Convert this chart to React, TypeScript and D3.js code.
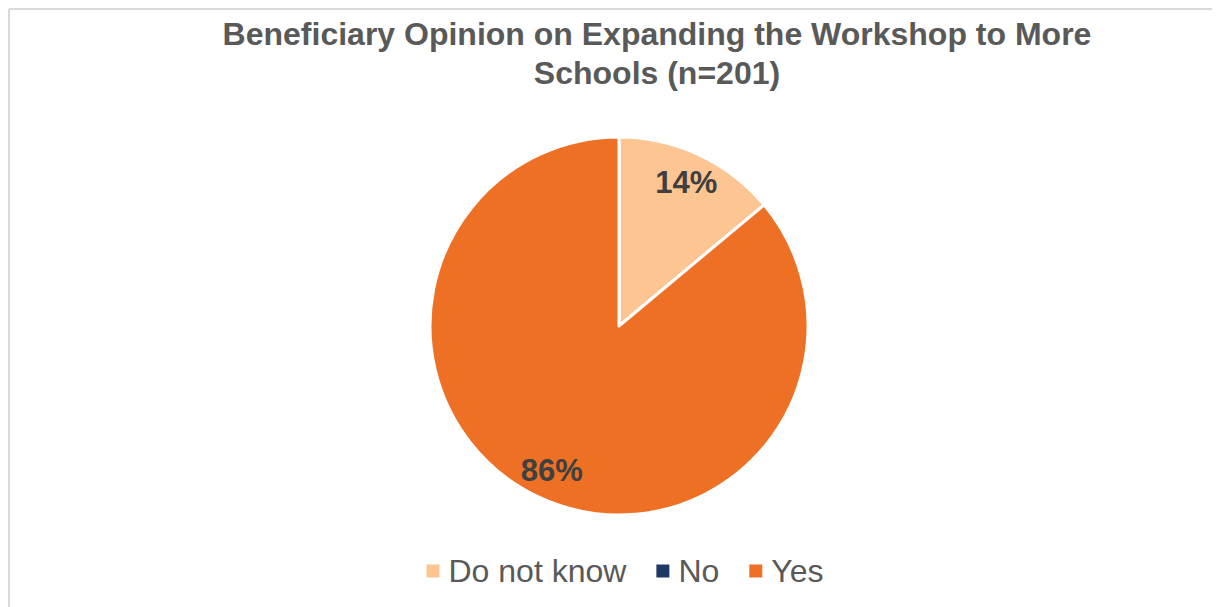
import React, { useEffect, useRef } from "react";
import * as d3 from "d3";

const titleLines = ["Beneficiary Opinion on Expanding the Workshop to More", "Schools (n=201)"];
const categories = ["Do not know", "No", "Yes"];
const values = [28, 0, 173];
const labels = ["14%", "", "86%"];
const colors = ["#FDC592", "#1F3864", "#EE7024"];

const W = 1212;
const H = 599;

export default function App() {
  const ref = useRef<SVGSVGElement>(null);
  useEffect(() => {
    document.body.style.overflow = "hidden";
    const svg = d3.select(ref.current);
    svg.selectAll("*").remove();
    const font = "'Liberation Sans', Arial, sans-serif";
    svg.append("rect").attr("width", W).attr("height", H).attr("fill", "#fff");
    svg.append("line").attr("x1", 1).attr("x2", W).attr("y1", 1).attr("y2", 1).attr("stroke", "#d9d9d9").attr("stroke-width", 2);
    svg.append("line").attr("x1", 1).attr("x2", 1).attr("y1", 1).attr("y2", H).attr("stroke", "#d9d9d9").attr("stroke-width", 2);

    const title = svg.append("text").attr("text-anchor", "middle").attr("font-family", font)
      .attr("font-weight", "bold").attr("font-size", 32).attr("fill", "#595959");
    titleLines.forEach((t, i) => {
      title.append("tspan").attr("x", 649).attr("y", 37 + i * 39).text(t);
    });

    const cx = 611, cy = 318, r = 189;
    const pie = d3.pie<number>().sort(null).value((d) => d);
    const arcs = pie(values);
    const arc = d3.arc<d3.PieArcDatum<number>>().innerRadius(0).outerRadius(r);
    const g = svg.append("g").attr("transform", `translate(${cx},${cy})`);
    g.selectAll("path").data(arcs.filter((a) => a.value > 0)).join("path")
      .attr("d", arc as any)
      .attr("fill", (d) => colors[d.index])
      .attr("stroke", "#fff").attr("stroke-width", 3).attr("stroke-linejoin", "round");
    const labelArc = d3.arc<d3.PieArcDatum<number>>().innerRadius(r * 0.84).outerRadius(r * 0.84);
    g.selectAll("text.lbl").data(arcs.filter((a) => a.value > 0)).join("text")
      .attr("class", "lbl")
      .attr("transform", (d) => `translate(${labelArc.centroid(d)})`)
      .attr("text-anchor", "middle").attr("dy", "0.35em")
      .attr("font-family", font).attr("font-weight", "bold").attr("font-size", 31).attr("fill", "#404040")
      .text((d) => labels[d.index]);

    // legend
    const lg = svg.append("g");
    const items = categories.map((c, i) => {
      const gi = lg.append("g");
      gi.append("rect").attr("width", 13).attr("height", 13).attr("y", -6.5).attr("fill", colors[i]);
      const t = gi.append("text").attr("x", 22).attr("dy", "0.35em").attr("font-family", font)
        .attr("font-size", 32).attr("fill", "#595959").text(c);
      const w = 22 + (t.node() as SVGTextElement).getComputedTextLength();
      return { gi, w };
    });
    const gap = 30;
    const total = items.reduce((s, it) => s + it.w, 0) + gap * (items.length - 1);
    let x = 617 - total / 2;
    items.forEach((it) => {
      it.gi.attr("transform", `translate(${x},563)`);
      x += it.w + gap;
    });
  }, []);
  return <svg ref={ref} width={W} height={H} style={{ display: "block" }} />;
}
